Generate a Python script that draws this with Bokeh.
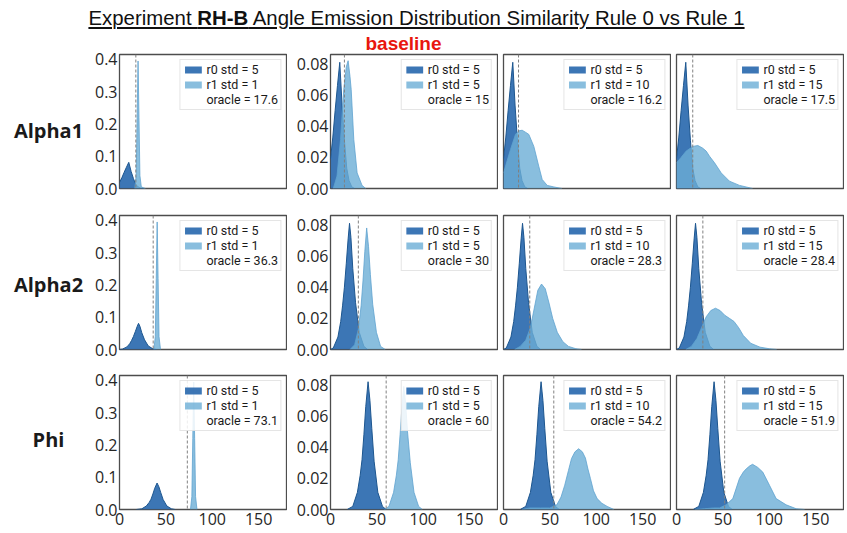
from bokeh.plotting import figure
from bokeh.models import Range1d, FixedTicker, PrintfTickFormatter, Span, Label, Div
from bokeh.layouts import column, row
from bokeh.embed import file_html
from bokeh.resources import INLINE

# ---------------- data ----------------
row_names = ["Alpha1", "Alpha2", "Phi"]
r0_std = 5
r1_stds = [1, 5, 10, 15]
oracle_alpha1 = [17.6, 15, 16.2, 17.5]
oracle_alpha2 = [36.3, 30, 28.3, 28.4]
oracle_phi = [73.1, 60, 54.2, 51.9]
x_ticks = [0, 50, 100, 150]
y_ticks_col1 = [0.0, 0.1, 0.2, 0.3, 0.4]
y_ticks_other = [0.00, 0.02, 0.04, 0.06, 0.08]
x_limits = [0, 180]
y_top_col1 = 0.415
y_top_other = 0.086

# rule 0 densities (std 5), one per row
alpha1_r0_x = [0, 2.5, 5, 7.5, 10, 12.5, 15, 17.5, 20, 23, 26]
alpha1_r0_y = [0.019, 0.033, 0.050, 0.066, 0.081, 0.053, 0.031, 0.013, 0.005, 0.001, 0.0]
alpha2_r0_x = [0, 3, 8, 11, 13, 15, 17, 19, 20.5, 22, 24, 27, 31, 36, 40]
alpha2_r0_y = [0.0, 0.001, 0.008, 0.018, 0.028, 0.040, 0.055, 0.071, 0.081, 0.072, 0.052, 0.030, 0.011, 0.002, 0.0]
phi_r0_x = [18, 24, 29, 32, 34, 36, 38, 40.5, 42.5, 44.5, 47, 51, 56, 60]
phi_r0_y = [0.0, 0.002, 0.011, 0.022, 0.032, 0.048, 0.066, 0.082, 0.070, 0.052, 0.031, 0.011, 0.002, 0.0]

# rule 1 densities, std 1 / 5 / 10 / 15
alpha1_r1_std1_x = [16.5, 18, 19, 20, 21, 22, 23.5, 26, 28]
alpha1_r1_std1_y = [0.0, 0.04, 0.22, 0.395, 0.22, 0.04, 0.005, 0.002, 0.0]
alpha1_r1_std5_x = [3, 7, 10.8, 14.3, 17, 19, 21, 22.3, 25.1, 28.7, 34, 38]
alpha1_r1_std5_y = [0.0, 0.008, 0.0315, 0.0635, 0.078, 0.082, 0.072, 0.0635, 0.0315, 0.010, 0.002, 0.0]
alpha1_r1_std10_x = [0, 7.5, 12.9, 16.5, 20.1, 24, 27.3, 32.7, 38, 41.7, 47.1, 54.3, 63]
alpha1_r1_std10_y = [0.010, 0.025, 0.0347, 0.037, 0.0374, 0.036, 0.0347, 0.027, 0.0143, 0.0058, 0.002, 0.001, 0.0]
alpha1_r1_std15_x = [0, 5, 10.4, 17.6, 23, 28, 32, 35.6, 41, 48.2, 57.1, 67.9, 82]
alpha1_r1_std15_y = [0.0165, 0.020, 0.024, 0.027, 0.0276, 0.026, 0.024, 0.0207, 0.0165, 0.010, 0.0047, 0.002, 0.0]

alpha2_r1_std1_x = [37, 38.6, 39.6, 40.6, 41.6, 42.6, 44.2]
alpha2_r1_std1_y = [0.0, 0.04, 0.22, 0.395, 0.22, 0.04, 0.0]
alpha2_r1_std5_x = [21, 26, 30, 33, 35, 37, 39, 41, 43, 45.5, 49.5, 54, 59]
alpha2_r1_std5_y = [0.0, 0.003, 0.013, 0.028, 0.044, 0.063, 0.078, 0.066, 0.048, 0.029, 0.011, 0.002, 0.0]
alpha2_r1_std10_x = [12, 18, 24, 29, 33, 37, 41, 45, 49, 53, 58, 64, 70, 78, 84]
alpha2_r1_std10_y = [0.0, 0.002, 0.006, 0.014, 0.026, 0.038, 0.042, 0.039, 0.030, 0.020, 0.011, 0.005, 0.002, 0.0005, 0.0]
alpha2_r1_std15_x = [10, 16, 22, 27, 32, 37, 42, 47, 52, 57, 62, 67, 72, 80, 90, 100, 108]
alpha2_r1_std15_y = [0.0, 0.002, 0.007, 0.014, 0.021, 0.025, 0.0265, 0.025, 0.022, 0.020, 0.018, 0.014, 0.009, 0.004, 0.0015, 0.0005, 0.0]

phi_r1_std1_x = [76.5, 78, 79, 80, 81, 82, 83.5]
phi_r1_std1_y = [0.0, 0.04, 0.22, 0.395, 0.22, 0.04, 0.0]
phi_r1_std5_x = [58, 63, 68, 71, 73, 75, 77, 79, 81, 83, 86, 90, 95, 99]
phi_r1_std5_y = [0.0, 0.002, 0.011, 0.022, 0.032, 0.048, 0.066, 0.079, 0.068, 0.050, 0.030, 0.011, 0.002, 0.0]
phi_r1_std10_x = [20, 28, 40, 50, 57.5, 62, 66, 70, 73.3, 77, 81, 85, 88.3, 91, 93.7, 97, 100.9, 106, 111.7, 119]
phi_r1_std10_y = [0.0, 0.001, 0.001, 0.001, 0.003, 0.008, 0.0156, 0.025, 0.0327, 0.037, 0.039, 0.037, 0.033, 0.026, 0.0199, 0.012, 0.007, 0.004, 0.002, 0.0]
phi_r1_std15_x = [20, 30, 40, 46.3, 53.5, 60.7, 67.9, 72, 75, 79, 82, 87.6, 93, 100.2, 107.4, 118.2, 129, 138]
phi_r1_std15_y = [0.0, 0.0005, 0.001, 0.001, 0.003, 0.007, 0.020, 0.024, 0.026, 0.028, 0.029, 0.027, 0.024, 0.0156, 0.007, 0.003, 0.0005, 0.0]

# ---------------- assembly ----------------
rows_data = [
    (alpha1_r0_x, alpha1_r0_y,
     [(alpha1_r1_std1_x, alpha1_r1_std1_y), (alpha1_r1_std5_x, alpha1_r1_std5_y),
      (alpha1_r1_std10_x, alpha1_r1_std10_y), (alpha1_r1_std15_x, alpha1_r1_std15_y)],
     oracle_alpha1),
    (alpha2_r0_x, alpha2_r0_y,
     [(alpha2_r1_std1_x, alpha2_r1_std1_y), (alpha2_r1_std5_x, alpha2_r1_std5_y),
      (alpha2_r1_std10_x, alpha2_r1_std10_y), (alpha2_r1_std15_x, alpha2_r1_std15_y)],
     oracle_alpha2),
    (phi_r0_x, phi_r0_y,
     [(phi_r1_std1_x, phi_r1_std1_y), (phi_r1_std5_x, phi_r1_std5_y),
      (phi_r1_std10_x, phi_r1_std10_y), (phi_r1_std15_x, phi_r1_std15_y)],
     oracle_phi),
]

# layout (pixels)
FRAME_W, FRAME_H = 167, 134
LABEL_COL_W = 88
left_borders = [31, 43, 5, 5]
top_borders = [24, 16, 15]
bottom_borders = [11, 11, 24]
# row-name position inside the label column (x centre, y from top of the row)
label_pos = [(48, 76), (48, 69), (48, 64)]

DARK_FILL, DARK_EDGE = "#2b6aaf", "#1d568f"
LIGHT_FILL, LIGHT_EDGE = "#6baed6", "#5fa3cf"
TICK_FONT = "Open Sans"

grid_rows = []
for ri, (r0x, r0y, r1_list, oracles) in enumerate(rows_data):
    # label column for the row name
    lab_h = top_borders[ri] + FRAME_H + bottom_borders[ri]
    lf = figure(frame_width=LABEL_COL_W, frame_height=lab_h,
                min_border=0, x_range=Range1d(0, LABEL_COL_W), y_range=Range1d(lab_h, 0),
                x_axis_location=None, y_axis_location=None,
                toolbar_location=None, output_backend="svg", title=None)
    lf.grid.visible = False
    lf.outline_line_color = None
    lf.add_layout(Label(x=label_pos[ri][0], y=label_pos[ri][1], text=row_names[ri],
                        text_align="center", text_baseline="middle",
                        text_font="Open Sans", text_font_style="bold",
                        text_font_size="20px", text_color="#1a1a1a"))
    figs = [lf]
    for ci in range(4):
        bottom = ri == 2
        ytop = y_top_col1 if ci == 0 else y_top_other
        p = figure(
            frame_width=FRAME_W, frame_height=FRAME_H,
            min_border_left=left_borders[ci], min_border_right=1,
            min_border_top=top_borders[ri], min_border_bottom=bottom_borders[ri],
            x_range=Range1d(*x_limits),
            y_range=Range1d(0, ytop),
            x_axis_location="below" if bottom else None,
            y_axis_location="left" if ci < 2 else None,
            toolbar_location=None, output_backend="svg",
            title="baseline" if (ri == 0 and ci == 1) else None,
        )
        p.grid.visible = False
        p.background_fill_color = "white"
        p.border_fill_color = "white"
        p.outline_line_color = "#4d4d4d"
        p.outline_line_width = 1.3

        if ri == 0 and ci == 1:
            p.title.align = "left"
            p.title.offset = 35
            p.title.text_color = "#e8160e"
            p.title.text_font = "Liberation Sans"
            p.title.text_font_style = "bold"
            p.title.text_font_size = "19px"
            p.title.standoff = 1

        for ax in p.axis:
            ax.major_tick_line_color = None
            ax.minor_tick_line_color = None
            ax.major_tick_out = 0
            ax.major_tick_in = 0
            ax.minor_tick_out = 0
            ax.minor_tick_in = 0
            ax.axis_line_color = None
            ax.major_label_text_font = TICK_FONT
            ax.major_label_text_font_size = "16px"
            ax.major_label_text_color = "#262626"
        if bottom:
            p.xaxis.ticker = FixedTicker(ticks=x_ticks)
            p.xaxis.major_label_standoff = 3
        if ci < 2:
            p.yaxis.ticker = FixedTicker(ticks=y_ticks_col1 if ci == 0 else y_ticks_other)
            p.yaxis.formatter = PrintfTickFormatter(format="%.1f" if ci == 0 else "%.2f")
            p.yaxis.major_label_standoff = 2

        r1x, r1y = r1_list[ci]
        p.varea(x=r0x, y1=0, y2=r0y, fill_color=DARK_FILL, fill_alpha=0.92,
                legend_label=f"r0 std = {r0_std}")
        p.line(x=r0x, y=r0y, line_color=DARK_EDGE, line_width=1)
        p.varea(x=r1x, y1=0, y2=r1y, fill_color=LIGHT_FILL, fill_alpha=0.8,
                legend_label=f"r1 std = {r1_stds[ci]}")
        p.line(x=r1x, y=r1y, line_color=LIGHT_EDGE, line_width=1, line_alpha=0.8)

        p.add_layout(Span(location=oracles[ci], dimension="height",
                          line_color="#808080", line_dash="3 2", line_width=1))
        p.line(x=[], y=[], line_color="#808080", line_dash="3 2", line_width=1,
               legend_label=f"oracle = {oracles[ci]}")

        lg = p.legend[0]
        lg.location = "top_right"
        lg.margin = 5
        lg.padding = 2
        lg.spacing = 0
        lg.label_standoff = 3
        lg.glyph_width = 21
        lg.glyph_height = 9
        lg.label_height = 9
        lg.label_text_font = "Roboto"
        lg.label_text_font_size = "12.5px"
        lg.label_text_color = "#1a1a1a"
        lg.border_line_color = "#cccccc"
        lg.border_line_width = 1
        lg.background_fill_alpha = 0.85
        figs.append(p)
    grid_rows.append(row(*figs, spacing=0))

title = Div(
    text='<u>Experiment <b>RH-B</b> Angle Emission Distribution Similarity Rule 0 vs Rule 1</u>',
    width=833, height=22, margin=(8, 0, 0, 0),
    styles={"font-family": "Liberation Sans, Arial, sans-serif", "font-size": "20.4px",
            "line-height": "20px", "text-align": "center", "color": "#111111",
            "width": "833px"},
)

layout = column(title, *grid_rows, spacing=0)
open("out.html", "w").write(file_html(layout, INLINE))
